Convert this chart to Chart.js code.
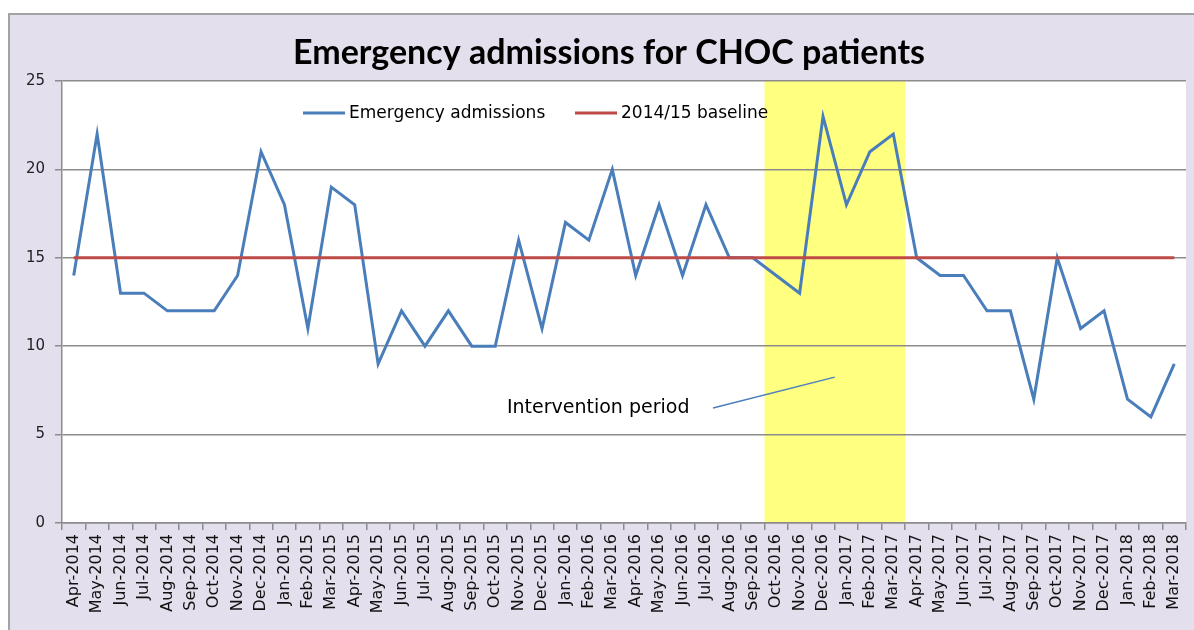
<!DOCTYPE html>
<html>
<head>
<meta charset="utf-8">
<script src="https://cdn.jsdelivr.net/npm/chart.js@4.4.1/dist/chart.umd.min.js"></script>
<style>
    html, body { margin: 0; padding: 0; background: #ffffff; overflow: hidden; }
    .frame {
        position: absolute;
        left: 8px;
        top: 13px;
        width: 1200px;
        height: 640px;
        background: #e4dfec;
        border-top: 2px solid #a3a3a3;
        border-left: 2px solid #a3a3a3;
    }
    .wrap { position: absolute; left: 0; top: 0; width: 1194px; height: 630px; }
</style>
</head>
<body>
<div class="frame"></div>
<div class="wrap"><canvas id="chart"></canvas></div>
<script>
const months = [
    'Apr-2014', 'May-2014', 'Jun-2014', 'Jul-2014', 'Aug-2014', 'Sep-2014', 'Oct-2014', 'Nov-2014', 'Dec-2014', 'Jan-2015', 'Feb-2015', 'Mar-2015',
    'Apr-2015', 'May-2015', 'Jun-2015', 'Jul-2015', 'Aug-2015', 'Sep-2015', 'Oct-2015', 'Nov-2015', 'Dec-2015', 'Jan-2016', 'Feb-2016', 'Mar-2016',
    'Apr-2016', 'May-2016', 'Jun-2016', 'Jul-2016', 'Aug-2016', 'Sep-2016', 'Oct-2016', 'Nov-2016', 'Dec-2016', 'Jan-2017', 'Feb-2017', 'Mar-2017',
    'Apr-2017', 'May-2017', 'Jun-2017', 'Jul-2017', 'Aug-2017', 'Sep-2017', 'Oct-2017', 'Nov-2017', 'Dec-2017', 'Jan-2018', 'Feb-2018', 'Mar-2018',
];
const admissions = [
    14, 22, 13, 13, 12, 12, 12, 14, 21, 18, 11, 19,
    18, 9, 12, 10, 12, 10, 10, 16, 11, 17, 16, 20,
    14, 18, 14, 18, 15, 15, 14, 13, 23, 18, 21, 22,
    15, 14, 14, 12, 12, 7, 15, 11, 12, 7, 6, 9,
];
const baseline = [
    15, 15, 15, 15, 15, 15, 15, 15, 15, 15, 15, 15,
    15, 15, 15, 15, 15, 15, 15, 15, 15, 15, 15, 15,
    15, 15, 15, 15, 15, 15, 15, 15, 15, 15, 15, 15,
    15, 15, 15, 15, 15, 15, 15, 15, 15, 15, 15, 15,
];
const seriesNames = ['Emergency admissions', '2014/15 baseline'];
const interventionStart = 'Oct-2016';
const interventionEnd = 'Mar-2017';
const yTicks = [0, 5, 10, 15, 20, 25];

const BLUE = '#4a7ebb';
const RED = '#be4b48';
const GRID = '#8c8c8c';
const FONT = '"DejaVu Sans", sans-serif';

// white plot area + yellow intervention band, under the grid
const backdrop = {
    id: 'backdrop',
    beforeDraw(chart) {
        const { ctx, chartArea: a, scales: { x } } = chart;
        ctx.save();
        ctx.fillStyle = '#ffffff';
        ctx.fillRect(a.left, a.top, a.right - a.left, a.bottom - a.top);
        const half = (x.getPixelForValue(1) - x.getPixelForValue(0)) / 2;
        const x0 = x.getPixelForValue(months.indexOf(interventionStart)) - half;
        const x1 = x.getPixelForValue(months.indexOf(interventionEnd)) + half;
        ctx.fillStyle = '#ffff80';
        ctx.fillRect(x0, a.top, x1 - x0, a.bottom - a.top);
        ctx.restore();
    },
};

// title, in-plot legend and the annotation
const overlay = {
    id: 'overlay',
    afterDraw(chart) {
        const { ctx, scales: { x, y } } = chart;
        ctx.save();

        ctx.fillStyle = '#000000';
        ctx.font = 'bold 34px Lato, sans-serif';
        ctx.textAlign = 'center';
        ctx.textBaseline = 'middle';
        ctx.fillText('Emergency admissions for CHOC patients', 609, 53);

        ctx.font = '17px ' + FONT;
        ctx.textAlign = 'left';
        const colors = [BLUE, RED];
        const legendX = [303, 575];
        const legendY = 113;
        seriesNames.forEach((name, i) => {
            ctx.strokeStyle = colors[i];
            ctx.lineWidth = 3;
            ctx.beginPath();
            ctx.moveTo(legendX[i], legendY);
            ctx.lineTo(legendX[i] + 42, legendY);
            ctx.stroke();
            ctx.fillStyle = '#000000';
            ctx.fillText(name, legendX[i] + 46, legendY + 1);
        });

        ctx.font = '19px ' + FONT;
        ctx.fillStyle = '#000000';
        ctx.fillText('Intervention period', x.getPixelForValue(18.5), y.getPixelForValue(6.5));
        ctx.strokeStyle = BLUE;
        ctx.lineWidth = 1.5;
        ctx.beginPath();
        ctx.moveTo(x.getPixelForValue(27.3), y.getPixelForValue(6.5));
        ctx.lineTo(x.getPixelForValue(32.5), y.getPixelForValue(8.25));
        ctx.stroke();

        ctx.restore();
    },
};

new Chart(document.getElementById('chart'), {
    type: 'line',
    data: {
        labels: months,
        datasets: [
            {
                label: seriesNames[0],
                data: admissions,
                borderColor: BLUE,
                borderWidth: 3,
                pointRadius: 0,
                tension: 0,
                order: 1,
            },
            {
                label: seriesNames[1],
                data: baseline,
                borderColor: RED,
                borderWidth: 3,
                pointRadius: 0,
                tension: 0,
                order: 0,
            },
        ],
    },
    options: {
        responsive: true,
        maintainAspectRatio: false,
        animation: false,
        layout: { padding: { top: 81, left: 10, right: 8, bottom: 0 } },
        plugins: {
            legend: { display: false },
            tooltip: { enabled: false },
            title: { display: false },
        },
        scales: {
            x: {
                offset: true,
                afterFit: (scale) => {
                    scale.height = 107;
                    scale.paddingLeft = 0;
                    scale.paddingRight = 0;
                },
                border: { color: GRID, width: 1.5 },
                grid: { offset: true, drawOnChartArea: false, drawTicks: true, tickLength: 7, color: GRID, lineWidth: 1.5 },
                ticks: {
                    autoSkip: false,
                    minRotation: 90,
                    maxRotation: 90,
                    padding: 4,
                    color: '#111111',
                    font: { family: FONT, size: 16 },
                },
            },
            y: {
                min: 0,
                max: 25,
                afterFit: (scale) => { scale.width = 52; },
                afterBuildTicks: (scale) => { scale.ticks = yTicks.map((value) => ({ value })); },
                border: { color: GRID, width: 1.5 },
                grid: { color: GRID, lineWidth: 1.5, tickLength: 7 },
                ticks: {
                    padding: 10,
                    color: '#222222',
                    font: { family: FONT, size: 15 },
                },
            },
        },
    },
    plugins: [backdrop, overlay],
});
</script>
</body>
</html>
